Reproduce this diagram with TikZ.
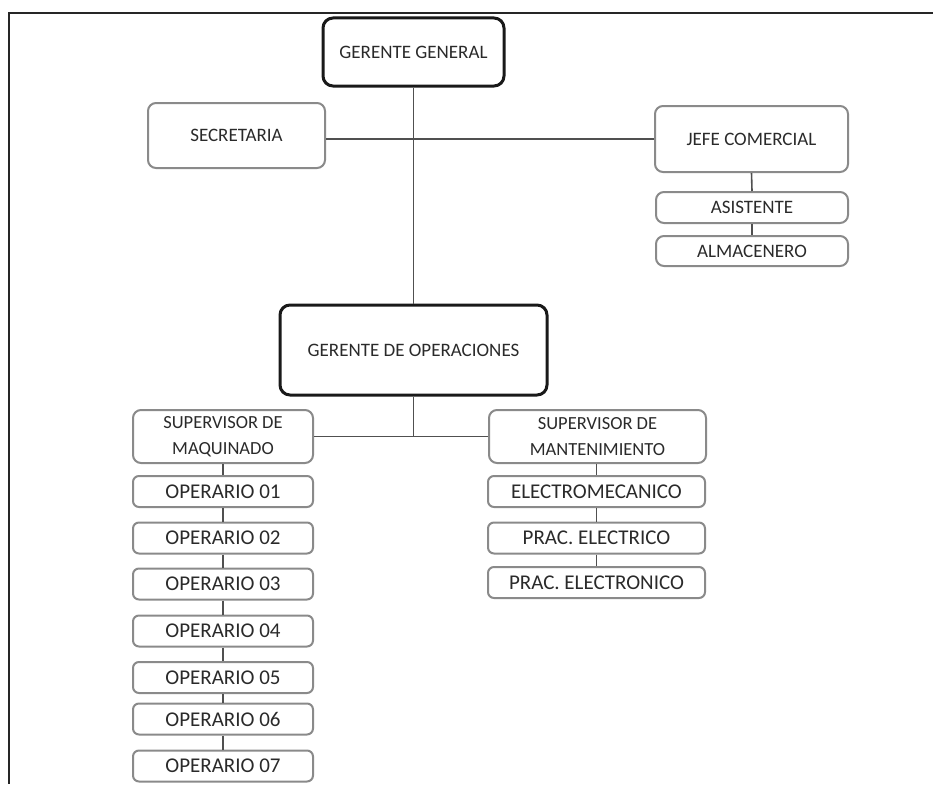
\documentclass[tikz,border=0pt]{standalone}
\usepackage{fontspec}
\setmainfont{Carlito}
\definecolor{txt}{HTML}{2A2A2A}
\definecolor{edge}{HTML}{8A8A8A}
\definecolor{conn}{HTML}{505050}
\begin{document}
\begin{tikzpicture}[x=1pt,y=-1pt,
  base/.style={rectangle,align=center,text=txt,inner sep=0pt,font=\fontsize{19}{25}\selectfont},
  mainbox/.style={base,draw=black!90,line width=3pt,rounded corners=10pt},
  sidebox/.style={base,draw=edge,line width=2pt,rounded corners=8pt},
  smallbox/.style={base,draw=edge,line width=2pt,rounded corners=6pt,font=\fontsize{21}{25}\selectfont},
  conn/.style={draw=conn,line width=1.6pt}]
\useasboundingbox (0,0) rectangle (933,784);
% frame
\draw[line width=2pt,black!85] (933,13) -- (9,13) -- (9,784);
% top level
\node[mainbox,minimum width=181pt,minimum height=68pt] (gg) at (413.5,52) {GERENTE GENERAL};
\node[sidebox,minimum width=177pt,minimum height=65pt] (sec) at (236.5,135.5) {SECRETARIA};
\node[sidebox,minimum width=193pt,minimum height=66pt] (jefe) at (751.5,139) {JEFE COMERCIAL};
\node[sidebox,minimum width=192pt,minimum height=31pt] (asis) at (752,207.5) {ASISTENTE};
\node[sidebox,minimum width=192pt,minimum height=30pt] (alm) at (752,251) {ALMACENERO};
\node[mainbox,minimum width=267pt,minimum height=90pt] (gdo) at (413.5,350) {GERENTE DE OPERACIONES};
% supervisors
\node[sidebox,font=\fontsize{18.5}{26}\selectfont,minimum width=180pt,minimum height=53pt] (supm) at (223,436.5) {SUPERVISOR DE\\MAQUINADO};
\node[sidebox,font=\fontsize{18.5}{26}\selectfont,minimum width=217pt,minimum height=53pt] (supt) at (597.5,436.5) {SUPERVISOR DE\\MANTENIMIENTO};
% operarios
\node[smallbox,minimum width=180pt,minimum height=31pt] (op1) at (223,491.5) {OPERARIO 01};
\node[smallbox,minimum width=180pt,minimum height=31pt] (op2) at (223,538) {OPERARIO 02};
\node[smallbox,minimum width=180pt,minimum height=31pt] (op3) at (223,584) {OPERARIO 03};
\node[smallbox,minimum width=180pt,minimum height=31pt] (op4) at (223,631) {OPERARIO 04};
\node[smallbox,minimum width=180pt,minimum height=31pt] (op5) at (223,677.5) {OPERARIO 05};
\node[smallbox,minimum width=180pt,minimum height=31pt] (op6) at (223,719) {OPERARIO 06};
\node[smallbox,minimum width=180pt,minimum height=31pt] (op7) at (223,766) {OPERARIO 07};
% mantenimiento
\node[smallbox,minimum width=217pt,minimum height=31pt] (el) at (596.5,491.5) {ELECTROMECANICO};
\node[smallbox,minimum width=217pt,minimum height=31pt] (pe) at (596.5,538) {PRAC. ELECTRICO};
\node[smallbox,minimum width=217pt,minimum height=31pt] (pn) at (596.5,582.5) {PRAC. ELECTRONICO};
% connectors
\draw[conn] (gg.south) -- (gdo.north);
\draw[conn] (sec.east |- jefe.west) -- (jefe.west);
\draw[conn] (jefe.south) -- (asis.north);
\draw[conn] (asis.south) -- (alm.north);
\draw[conn] (gdo.south) -- (gdo.south |- supm.east);
\draw[conn] (supm.east) -- (supt.west);
\draw[conn] (supm.south) -- (op1.north);
\draw[conn] (op1.south) -- (op2.north);
\draw[conn] (op2.south) -- (op3.north);
\draw[conn] (op3.south) -- (op4.north);
\draw[conn] (op4.south) -- (op5.north);
\draw[conn] (op5.south) -- (op6.north);
\draw[conn] (op6.south) -- (op7.north);
\draw[conn] (supt.south -| el.north) -- (el.north);
\draw[conn] (el.south) -- (pe.north);
\draw[conn] (pe.south) -- (pn.north);
\end{tikzpicture}
\end{document}
